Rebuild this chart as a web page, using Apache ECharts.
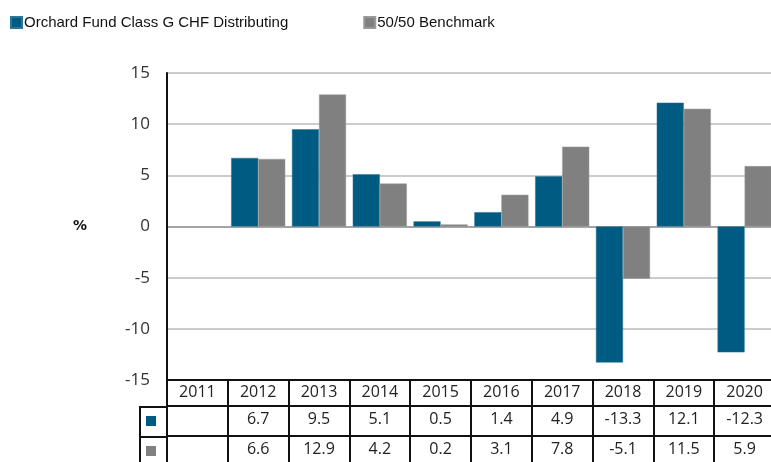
<!DOCTYPE html>
<html>
<head>
<meta charset="utf-8">
<script src="https://cdn.jsdelivr.net/npm/echarts@6/dist/echarts.min.js"></script>
<style>
    html, body { margin: 0; padding: 0; background: #fff; }
    #chart { width: 771px; height: 462px; }
</style>
</head>
<body>
<div id="chart"></div>
<script>
const years = ['2011', '2012', '2013', '2014', '2015', '2016', '2017', '2018', '2019', '2020'];
const fundValues = [null, 6.7, 9.5, 5.1, 0.5, 1.4, 4.9, -13.3, 12.1, -12.3];
const benchValues = [null, 6.6, 12.9, 4.2, 0.2, 3.1, 7.8, -5.1, 11.5, 5.9];
const seriesNames = ['Orchard Fund Class G CHF Distributing', '50/50 Benchmark'];

const color = {
    fund: '#005b82',
    bench: '#808080',
    grid: '#cccccc',
    zero: '#a3a3a3',
    border: '#111111',
    text: '#222222',
}
const numFont = '"Open Sans", sans-serif';

const fmt = function (v) {
    return v === null ? '' : v.toFixed(1);
}

// one bottom x axis per table row, stacked with offset
const tableAxis = function (data, offset, margin, extra) {
    return Object.assign({
        type: 'category',
        position: 'bottom',
        offset: offset,
        data: data,
        axisLine: { show: true, onZero: false, lineStyle: { color: color.border, width: 2 } },
        axisTick: { show: false },
        axisLabel: { interval: 0, color: color.text, fontFamily: numFont, fontSize: 16, margin: margin },
        splitLine: { show: false },
    }, extra || {});
}

const chart = echarts.init(document.getElementById('chart'));
chart.setOption({
    animation: false,
    color: [color.fund, color.bench],
    legend: {
        left: 5,
        top: 10,
        itemWidth: 11,
        itemHeight: 11,
        itemGap: 75,
        icon: 'rect',
        textStyle: { fontFamily: '"Liberation Sans", Arial, sans-serif', fontSize: 15, color: '#111', padding: [0, 0, 0, -3] },
        data: seriesNames,
    },
    grid: { left: 167, top: 73, width: 608, height: 307, containLabel: false, outerBoundsMode: 'none' },
    xAxis: [
        tableAxis(years, 0, 4, {
            axisTick: { show: true, alignWithLabel: false, length: 82, inside: false, lineStyle: { color: color.border, width: 2 } },
        }),
        tableAxis(fundValues.map(fmt), 26, 5),
        tableAxis(benchValues.map(fmt), 56, 5),
    ],
    yAxis: {
        type: 'value',
        min: -15,
        max: 15,
        interval: 5,
        name: '%',
        nameLocation: 'middle',
        nameRotate: 0,
        nameGap: 80,
        nameTextStyle: { fontFamily: '"DejaVu Sans", sans-serif', fontWeight: 'bold', fontSize: 14, color: '#111', padding: [6, 0, 0, 0] },
        axisLine: { show: true, lineStyle: { color: color.border, width: 2 } },
        axisTick: { show: false },
        axisLabel: { color: '#333', fontFamily: numFont, fontSize: 17, margin: 17 },
        splitLine: {
            show: true,
            lineStyle: {
                width: 2,
                color: [color.grid, color.grid, color.grid, color.zero, color.grid, color.grid, color.grid],
            },
        },
    },
    series: [
        {
            type: 'bar',
            name: seriesNames[0],
            data: fundValues,
            barGap: '0%',
            barCategoryGap: '11%',
            itemStyle: { color: color.fund, borderColor: '#2f7596', borderWidth: 0.5 },
        },
        {
            type: 'bar',
            name: seriesNames[1],
            data: benchValues,
            barGap: '0%',
            barCategoryGap: '11%',
            itemStyle: { color: color.bench, borderColor: '#9a9a9a', borderWidth: 0.5 },
        },
    ],
    // legend key column at the left of the table
    graphic: [
        { type: 'line', shape: { x1: 140, y1: 407, x2: 168, y2: 407 }, style: { stroke: color.border, lineWidth: 2 } },
        { type: 'line', shape: { x1: 140, y1: 437, x2: 168, y2: 437 }, style: { stroke: color.border, lineWidth: 2 } },
        { type: 'line', shape: { x1: 140, y1: 406, x2: 140, y2: 462 }, style: { stroke: color.border, lineWidth: 2 } },
        { type: 'rect', shape: { x: 146, y: 416, width: 10, height: 10 }, style: { fill: color.fund } },
        { type: 'rect', shape: { x: 146, y: 446, width: 10, height: 10 }, style: { fill: color.bench } },
    ],
});
</script>
</body>
</html>
